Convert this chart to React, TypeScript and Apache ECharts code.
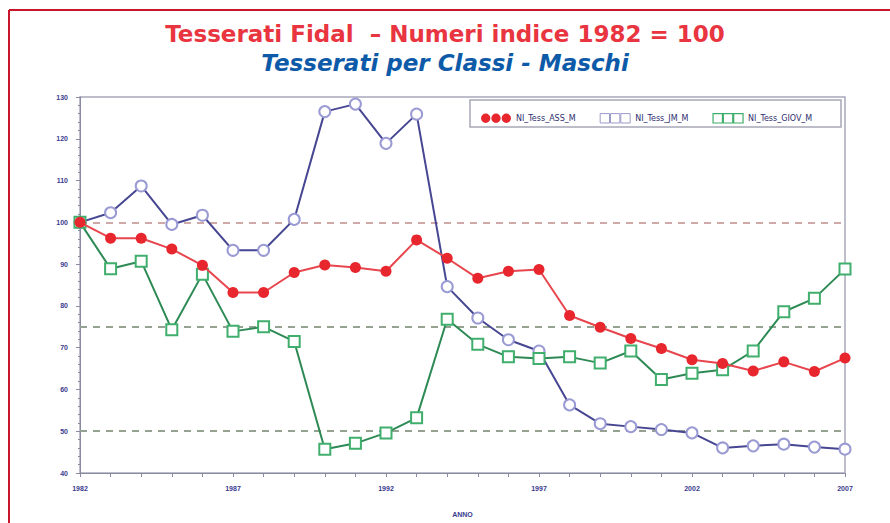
import React, { useEffect, useRef } from "react";
import * as echarts from "echarts";

const years = [
  "1982", "1983", "1984", "1985", "1986", "1987", "1988", "1989", "1990",
  "1991", "1992", "1993", "1994", "1995", "1996", "1997", "1998", "1999",
  "2000", "2001", "2002", "2003", "2004", "2005", "2006", "2007",
];

const assM = [
  100, 96.2, 96.2, 93.6, 89.7, 83.2, 83.2, 88.0, 89.8, 89.2, 88.3, 95.8,
  91.4, 86.6, 88.3, 88.7, 77.7, 74.9, 72.2, 69.8, 67.1, 66.2, 64.4, 66.6,
  64.3, 67.5,
];

const jmM = [
  100, 102.3, 108.7, 99.5, 101.7, 93.3, 93.3, 100.7, 126.5, 128.3, 118.9,
  125.9, 84.6, 77.1, 71.9, 69.2, 56.3, 51.8, 51.1, 50.4, 49.6, 46.0, 46.5,
  46.9, 46.2, 45.7,
];

const giovM = [
  100, 88.9, 90.7, 74.3, 87.6, 73.9, 75.0, 71.5, 45.7, 47.1, 49.6, 53.2,
  76.8, 70.8, 67.8, 67.4, 67.8, 66.3, 69.2, 62.4, 63.9, 64.7, 69.2, 78.6,
  81.8, 88.8,
];

const seriesNames = ["NI_Tess_ASS_M", "NI_Tess_JM_M", "NI_Tess_GIOV_M"];
const refLines = [100, 75, 50];

const titleText = "Tesserati Fidal  \u2013 Numeri indice 1982 = 100";
const subText = "Tesserati per Classi - Maschi";

const circles3 =
  "path://M0,5a5,5 0 1,0 10,0a5,5 0 1,0 -10,0zM11,5a5,5 0 1,0 10,0a5,5 0 1,0 -10,0zM22,5a5,5 0 1,0 10,0a5,5 0 1,0 -10,0z";
const squares3 = "path://M0,0h10v10h-10zM11,0h10v10h-10zM22,0h10v10h-10z";

export default function App() {
  const ref = useRef<HTMLDivElement>(null);
  useEffect(() => {
    if (!ref.current) return;
    const chart = echarts.init(ref.current, null, { renderer: "svg" });
    const axisTextColor = "#3b3b8f";
    chart.setOption({
      animation: false,
      backgroundColor: "#ffffff",
      title: [
        {
          text: titleText,
          left: "center",
          top: 17,
          textStyle: {
            fontFamily: "DejaVu Sans, sans-serif",
            fontSize: 23,
            fontWeight: "bold",
            color: "#e8353f",
          },
        },
        {
          text: subText,
          left: "center",
          top: 46,
          textStyle: {
            fontFamily: "DejaVu Sans, sans-serif",
            fontSize: 23,
            fontWeight: "bold",
            fontStyle: "italic",
            color: "#0d5aa8",
          },
        },
      ],
      graphic: [
        {
          type: "line",
          shape: { x1: 9, y1: 10, x2: 890, y2: 10 },
          style: { stroke: "#c8162c", lineWidth: 2 },
        },
        {
          type: "line",
          shape: { x1: 9, y1: 10, x2: 9, y2: 523 },
          style: { stroke: "#c8162c", lineWidth: 2 },
        },
        {
          type: "rect",
          shape: { x: 470, y: 100, width: 371, height: 27 },
          style: { fill: "#ffffff", stroke: "#a8a8b8", lineWidth: 1.5 },
          z: 5,
        },
      ],
      legend: {
        left: 476,
        top: 108,
        itemWidth: 30,
        itemHeight: 10,
        itemGap: 24,
        z: 10,
        textStyle: {
          fontSize: 8,
          color: "#2e2e6e",
          fontFamily: "DejaVu Sans, sans-serif",
        },
        data: [
          { name: seriesNames[0], icon: circles3, itemStyle: { color: "#e8262e", borderWidth: 0 } },
          {
            name: seriesNames[1],
            icon: squares3,
            itemStyle: { color: "#ffffff", borderColor: "#9a9ac8", borderWidth: 1 },
          },
          {
            name: seriesNames[2],
            icon: squares3,
            itemStyle: { color: "#ffffff", borderColor: "#3fae6a", borderWidth: 1.2 },
          },
        ],
      },
      grid: {
        left: 80,
        right: 45,
        top: 97,
        bottom: 50,
        show: true,
        borderColor: "#a8a8bc",
        borderWidth: 1.5,
        backgroundColor: "transparent",
      },
      xAxis: {
        type: "category",
        data: years,
        boundaryGap: false,
        name: "ANNO",
        nameLocation: "middle",
        nameGap: 38,
        nameTextStyle: { fontSize: 7, color: axisTextColor, fontWeight: "bold" },
        axisLine: { lineStyle: { color: "#8a8aa0", width: 1 } },
        axisTick: { show: true, interval: 0, length: 4, lineStyle: { color: "#8a8aa0" } },
        axisLabel: {
          interval: 4,
          fontSize: 7,
          color: axisTextColor,
          fontWeight: "bold",
          margin: 12,
        },
        splitLine: { show: false },
      },
      yAxis: {
        type: "value",
        min: 40,
        max: 130,
        interval: 10,
        axisLine: { show: true, lineStyle: { color: "#8a8aa0", width: 1 } },
        axisTick: { show: true, length: 4, lineStyle: { color: "#8a8aa0" } },
        minorTick: { show: true, splitNumber: 5, length: 2, lineStyle: { color: "#8a8aa0" } },
        axisLabel: { fontSize: 7, color: axisTextColor, fontWeight: "bold", margin: 12 },
        splitLine: { show: false },
      },
      series: [
        {
          name: seriesNames[0],
          type: "line",
          data: assM,
          symbol: "circle",
          symbolSize: 11,
          itemStyle: { color: "#e8262e" },
          lineStyle: { color: "#e8464e", width: 2 },
          z: 4,
          markLine: {
            silent: true,
            symbol: "none",
            label: { show: false },
            z: 1,
            data: refLines.map((v, i) => ({
              yAxis: v,
              lineStyle: {
                type: [7, 6],
                width: 2,
                color: i === 0 ? "#cfa8a8" : "#95a292",
              },
            })),
          },
        },
        {
          name: seriesNames[1],
          type: "line",
          data: jmM,
          symbol: "emptyCircle",
          symbolSize: 11,
          itemStyle: { color: "#9a9ad4", borderWidth: 1 },
          lineStyle: { color: "#464692", width: 2 },
          z: 3,
        },
        {
          name: seriesNames[2],
          type: "line",
          data: giovM,
          symbol: "emptyRect",
          symbolSize: 11,
          itemStyle: { color: "#40ae6c", borderWidth: 1 },
          lineStyle: { color: "#2e8a55", width: 2 },
          z: 3,
        },
      ],
    });
    return () => chart.dispose();
  }, []);
  return (
    <div
      ref={ref}
      style={{ position: "fixed", left: 0, top: 0, width: 890, height: 523 }}
    />
  );
}
